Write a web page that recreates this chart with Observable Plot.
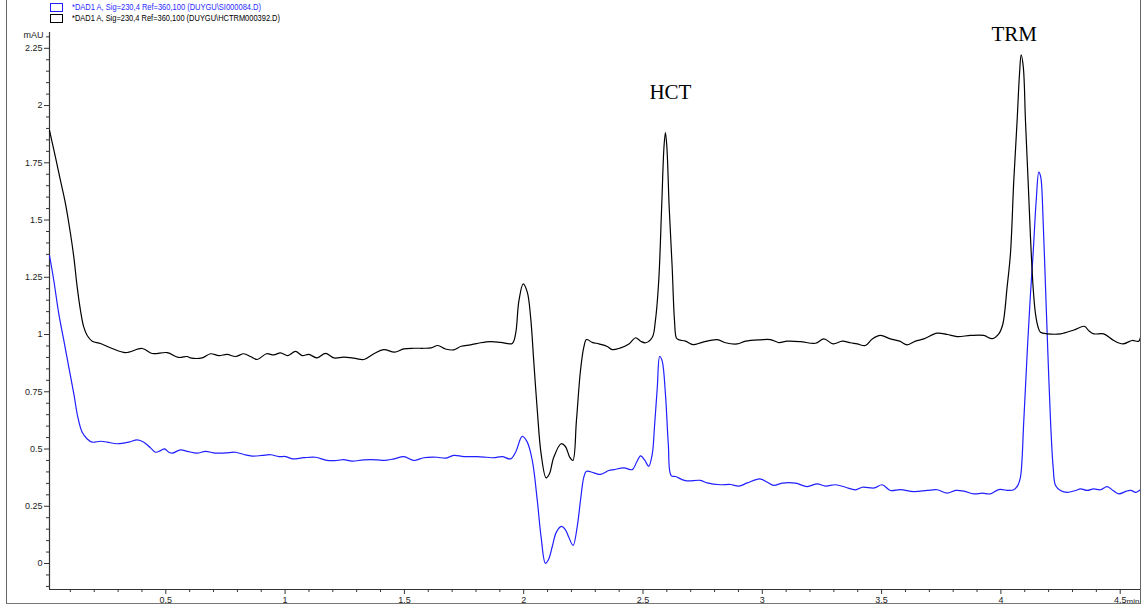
<!DOCTYPE html>
<html>
<head>
<meta charset="utf-8">
<script src="https://cdn.jsdelivr.net/npm/d3@7"></script>
<script src="https://cdn.jsdelivr.net/npm/@observablehq/plot@0.6"></script>
<style>
  html, body { margin: 0; padding: 0; background: #fff; }
  #wrap { position: relative; width: 1141px; height: 608px; overflow: hidden; }
  #frame { position: absolute; left: 6px; top: 0; width: 1133px; height: 603px;
           border-left: 1px solid #666; border-right: 1px solid #666; border-bottom: 1px solid #777;
           pointer-events: none; }
  #legend { position: absolute; left: 0; top: 0; }
</style>
</head>
<body>
<div id="wrap">
  <div id="chart"></div>
  <svg id="legend" width="420" height="26"></svg>
  <div id="frame"></div>
</div>
<script>
// ---- data (retention time in min, signal in mAU) ----
const timeBlack = [0.0126,0.0377,0.0587,0.0796,0.1006,0.1145,0.1287,0.1425,0.1563,0.1706,0.1915,0.2263,0.2754,0.3311,0.4011,0.443,0.506,0.553,0.590,0.6035,0.6525,0.6873,0.7222,0.7573,0.7921,0.8269,0.855,0.883,0.922,0.9527,0.9807,1.0113,1.0436,1.0717,1.0993,1.1346,1.1693,1.2041,1.246,1.288,1.330,1.372,1.4137,1.4585,1.4975,1.5394,1.5813,1.6123,1.640,1.672,1.707,1.738,1.777,1.819,1.861,1.903,1.952,1.966,1.980,1.998,2.015,2.029,2.042,2.057,2.073,2.094,2.108,2.126,2.157,2.175,2.193,2.206,2.221,2.238,2.252,2.263,2.287,2.315,2.350,2.371,2.406,2.441,2.469,2.490,2.511,2.539,2.552,2.566,2.578,2.588,2.594,2.600,2.610,2.622,2.632,2.640,2.650,2.678,2.710,2.748,2.811,2.846,2.895,2.930,2.992,3.034,3.069,3.104,3.160,3.223,3.258,3.297,3.335,3.370,3.398,3.432,3.461,3.495,3.537,3.576,3.607,3.642,3.677,3.733,3.775,3.817,3.873,3.928,3.964,3.991,4.008,4.026,4.040,4.054,4.068,4.078,4.085,4.094,4.103,4.114,4.124,4.135,4.145,4.156,4.166,4.194,4.250,4.306,4.350,4.368,4.389,4.431,4.473,4.511,4.550,4.578,4.589];
const mauBlack = [1.891,1.774,1.672,1.571,1.440,1.338,1.207,1.105,1.032,0.996,0.971,0.961,0.939,0.921,0.939,0.917,0.921,0.900,0.904,0.898,0.898,0.916,0.908,0.913,0.904,0.916,0.904,0.891,0.916,0.911,0.920,0.908,0.926,0.908,0.913,0.898,0.918,0.898,0.901,0.897,0.891,0.916,0.934,0.923,0.937,0.940,0.940,0.942,0.952,0.937,0.933,0.949,0.955,0.964,0.969,0.966,0.961,1.003,1.148,1.221,1.185,1.076,0.886,0.668,0.479,0.374,0.392,0.464,0.523,0.511,0.464,0.450,0.624,0.843,0.945,0.978,0.966,0.959,0.948,0.934,0.942,0.959,0.986,0.971,0.964,0.988,1.061,1.236,1.55,1.82,1.882,1.82,1.55,1.30,1.061,0.985,0.977,0.971,0.956,0.966,0.978,0.964,0.959,0.971,0.977,0.978,0.965,0.971,0.969,0.962,0.981,0.959,0.971,0.964,0.959,0.952,0.981,0.996,0.981,0.971,0.955,0.971,0.981,1.006,1.000,0.991,0.996,0.996,0.982,1.003,1.045,1.207,1.352,1.672,1.934,2.138,2.221,2.167,1.934,1.672,1.425,1.207,1.090,1.032,1.010,1.003,1.003,1.020,1.036,1.017,1.003,1.003,0.974,0.959,0.974,0.971,1.017];

const timeBlue = [0.0126,0.0306,0.0516,0.0726,0.0936,0.1146,0.1313,0.1495,0.1706,0.1915,0.2263,0.2543,0.2962,0.345,0.380,0.408,0.436,0.457,0.478,0.4946,0.5126,0.527,0.5616,0.590,0.6315,0.666,0.708,0.750,0.792,0.827,0.862,0.904,0.939,0.974,1.002,1.030,1.078,1.127,1.176,1.218,1.246,1.281,1.330,1.386,1.414,1.456,1.498,1.539,1.581,1.637,1.672,1.707,1.749,1.805,1.847,1.875,1.910,1.945,1.966,1.994,2.015,2.036,2.057,2.073,2.091,2.105,2.119,2.137,2.158,2.175,2.189,2.207,2.224,2.238,2.252,2.263,2.294,2.322,2.357,2.378,2.420,2.455,2.473,2.490,2.508,2.524,2.539,2.548,2.560,2.570,2.580,2.594,2.606,2.618,2.636,2.678,2.741,2.769,2.825,2.867,2.902,2.937,2.990,3.021,3.048,3.083,3.139,3.188,3.230,3.265,3.307,3.349,3.391,3.419,3.470,3.502,3.537,3.579,3.635,3.691,3.733,3.775,3.810,3.845,3.887,3.922,3.956,3.991,4.033,4.054,4.071,4.082,4.096,4.110,4.124,4.135,4.148,4.159,4.167,4.177,4.187,4.197,4.208,4.219,4.229,4.250,4.278,4.313,4.334,4.362,4.389,4.417,4.445,4.470,4.494,4.526,4.545,4.566,4.589];
const mauBlue = [1.345,1.236,1.090,0.974,0.857,0.741,0.639,0.573,0.544,0.530,0.534,0.530,0.523,0.530,0.540,0.530,0.505,0.486,0.493,0.501,0.486,0.482,0.496,0.490,0.482,0.490,0.482,0.483,0.486,0.476,0.469,0.472,0.475,0.467,0.467,0.457,0.462,0.464,0.450,0.450,0.454,0.447,0.453,0.453,0.450,0.457,0.467,0.450,0.462,0.464,0.460,0.472,0.467,0.467,0.464,0.462,0.467,0.457,0.486,0.555,0.530,0.450,0.275,0.115,0.001,0.020,0.071,0.137,0.162,0.147,0.115,0.079,0.159,0.275,0.377,0.403,0.396,0.389,0.406,0.410,0.418,0.410,0.442,0.470,0.450,0.424,0.479,0.595,0.770,0.904,0.886,0.741,0.523,0.384,0.380,0.362,0.363,0.352,0.344,0.345,0.338,0.352,0.370,0.355,0.341,0.351,0.351,0.336,0.348,0.338,0.344,0.333,0.322,0.333,0.330,0.344,0.319,0.323,0.314,0.319,0.322,0.307,0.319,0.316,0.304,0.307,0.304,0.323,0.319,0.322,0.341,0.377,0.624,0.916,1.178,1.352,1.585,1.709,1.687,1.498,1.207,0.916,0.624,0.421,0.341,0.319,0.311,0.319,0.326,0.319,0.326,0.322,0.336,0.319,0.304,0.316,0.319,0.311,0.326];

const xTicks = [0.5, 1, 1.5, 2, 2.5, 3, 3.5, 4, 4.5];
const yTicks = [0, 0.25, 0.5, 0.75, 1, 1.25, 1.5, 1.75, 2, 2.25];
const peakLabels = ["HCT", "TRM"];
const peakTime = [2.615, 4.056];
const peakMau = [2.029, 2.281];
const legendLabels = [
  "*DAD1 A, Sig=230,4 Ref=360,100 (DUYGU\\SI000084.D)",
  "*DAD1 A, Sig=230,4 Ref=360,100 (DUYGU\\HCTRM000392.D)"
];
const seriesColors = ["#1f1fff", "#000000"];

// ---- build tables ----
const black = timeBlack.map((t, i) => ({t, v: mauBlack[i]}));
const blue = timeBlue.map((t, i) => ({t, v: mauBlue[i]}));
const peaks = peakLabels.map((s, i) => ({s, t: peakTime[i], v: peakMau[i]}));

const xDomain = [0.01257, 4.5893];
const yDomain = [-0.1135, 2.319];
const xMinor = d3.range(1, 46).map(i => i / 10).filter(d => !xTicks.some(m => Math.abs(m - d) < 1e-9));
const yMinor = d3.range(-2, 47).map(i => i / 20).filter(d => !yTicks.some(m => Math.abs(m - d) < 1e-9));

const fmt = d => String(d);

const chart = Plot.plot({
  width: 1141,
  height: 608,
  marginLeft: 49,
  marginRight: 0,
  marginTop: 32,
  marginBottom: 19,
  style: {fontFamily: "Liberation Sans, Arial, sans-serif", fontSize: "9px", color: "#222", background: "transparent", overflow: "visible"},
  x: {domain: xDomain, label: null, axis: null},
  y: {domain: yDomain, label: null, axis: null},
  marks: [
    Plot.axisX(xTicks, {tickSize: 5, tickPadding: 2, tickFormat: fmt, stroke: "#333", fill: "#222", label: null}),
    Plot.axisX(xMinor, {tickSize: 3, tickFormat: () => "", stroke: "#333", label: null}),
    Plot.axisY(yTicks, {tickSize: 5, tickPadding: 2, tickFormat: fmt, stroke: "#333", fill: "#222", label: null}),
    Plot.axisY(yMinor, {tickSize: 3, tickFormat: () => "", stroke: "#333", label: null}),
    Plot.ruleX([xDomain[0]], {stroke: "#333", strokeWidth: 1.2}),
    Plot.ruleY([yDomain[0]], {stroke: "#333", strokeWidth: 1.2}),
    Plot.text(["mAU"], {x: xDomain[0], y: yDomain[1], dx: -6, dy: 3, text: d => d, textAnchor: "end", fill: "#222", fontSize: 9}),
    Plot.text(["min"], {x: 4.5893, y: yDomain[0], dx: -2, dy: 12, text: d => d, textAnchor: "end", fill: "#222", fontSize: 8}),
    Plot.line(blue, {x: "t", y: "v", stroke: seriesColors[0], strokeWidth: 1.2, curve: "catmull-rom", clip: true}),
    Plot.line(black, {x: "t", y: "v", stroke: seriesColors[1], strokeWidth: 1.2, curve: "catmull-rom", clip: true}),
    Plot.text(peaks, {x: "t", y: "v", text: "s", textAnchor: "middle", lineAnchor: "bottom", fontFamily: "Liberation Serif, Times New Roman, serif", fontSize: 21, fill: "#000"})
  ]
});
document.getElementById("chart").appendChild(chart);

// ---- legend ----
const leg = d3.select("#legend");
const rows = [{y: 3, cy: 9.5, w: 189}, {y: 14, cy: 20.5, w: 208}];
legendLabels.forEach((lab, i) => {
  leg.append("rect").attr("x", 50.5).attr("y", rows[i].y + 0.5).attr("width", 12).attr("height", 8)
    .attr("fill", "white").attr("stroke", seriesColors[i]).attr("stroke-width", 1);
  leg.append("text").attr("x", 72).attr("y", rows[i].cy)
    .attr("font-family", "Liberation Sans, Arial, sans-serif").attr("font-size", 9)
    .attr("fill", i === 0 ? "#2a2aff" : "#000")
    .attr("textLength", rows[i].w).attr("lengthAdjust", "spacingAndGlyphs")
    .text(lab);
});
</script>
</body>
</html>
